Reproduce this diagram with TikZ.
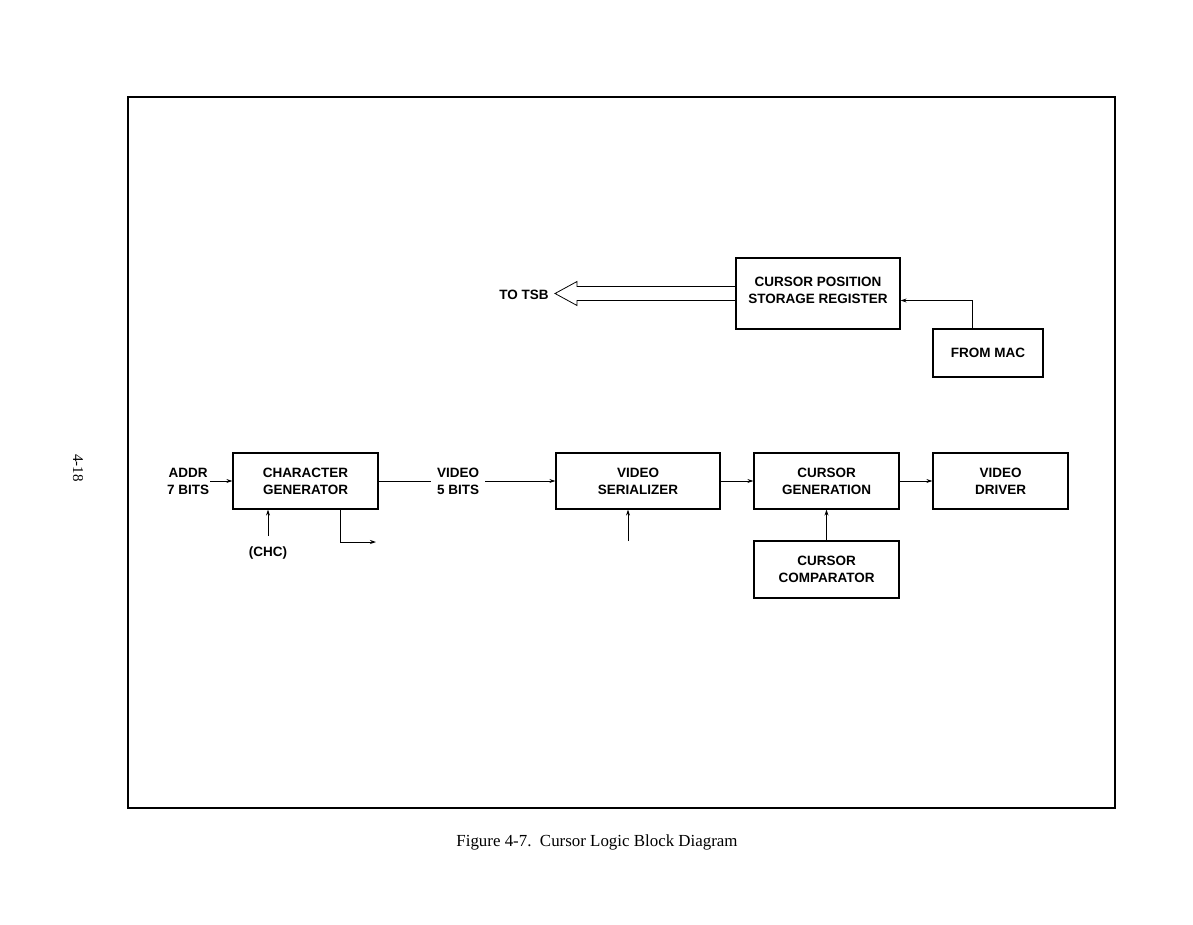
\documentclass[tikz,border=0pt]{standalone}
\usepackage{fontspec}
\setmainfont{Liberation Serif}
\newfontfamily\blockfont{Liberation Sans}
\usetikzlibrary{arrows.meta, positioning, calc}

\begin{document}
\begin{tikzpicture}[
    x=1pt, y=-1pt,
    >={Stealth[length=6pt, width=4pt]},
    box/.style={draw, line width=1.2pt, minimum height=56pt, align=center, font=\blockfont\bfseries\fontsize{13.5}{17}\selectfont},
    lbl/.style={align=center, font=\blockfont\bfseries\fontsize{13.5}{17}\selectfont, inner sep=1pt},
    wire/.style={line width=0.8pt},
]
    \useasboundingbox (0,0) rectangle (1193,925);
    \draw[line width=1.2pt] (128,97) rectangle (1115,808);
    \node[box, minimum width=145pt] (chargen) at (305.5,481) {CHARACTER\\GENERATOR};
    \node[box, minimum width=164pt, right=176.8pt of chargen] (serial) {VIDEO\\SERIALIZER};
    \node[box, minimum width=145pt, right=32.8pt of serial] (cursgen) {CURSOR\\GENERATION};
    \node[box, minimum width=135pt, right=32.8pt of cursgen] (driver) {VIDEO\\DRIVER};
    \node[box, minimum width=145pt, minimum height=57pt, below=30.8pt of cursgen] (compar) {CURSOR\\COMPARATOR};
    \node[box, minimum width=164pt, minimum height=71pt] (posreg) at (818,293.5) {};
    \node[lbl] (posregtext) at ($(posreg.center)+(0,-3)$) {CURSOR POSITION\\STORAGE REGISTER};
    \node[box, minimum width=110pt, minimum height=48pt] (frommac) at (988,353) {FROM MAC};
    \node[lbl, left=22pt of chargen] (addr) {ADDR\\7 BITS};
    \node[lbl] (totsb) at (524,295) {TO TSB};
    \node[lbl] (chc) at (268,553) {(CHC)};
    \coordinate (chcin) at (268,536);
    \coordinate (cgout) at (376,542);
    \coordinate (serin) at (628,541);
    \coordinate (tsbtip) at (555,293.5);
    \draw[wire, ->] (addr) -- (chargen);
    \draw[wire, ->] (chargen) -- node[lbl, fill=white, pos=0.45, inner xsep=6pt] (video) {VIDEO\\5 BITS} (serial);
    \draw[wire, ->] (chcin) -- (chcin |- chargen.south);
    \draw[wire, ->] ($(chargen.south)+(34.5,0)$) |- (cgout);
    \draw[wire, ->] (serin) -- (serin |- serial.south);
    \draw[wire, ->] (serial) -- (cursgen);
    \draw[wire, ->] (cursgen) -- (driver);
    \draw[wire, ->] (compar) -- (cursgen);
    \draw[wire, ->] ($(frommac.north)+(-16,0)$) |- ($(posreg.east)+(0,7)$);
    % hollow bus arrow
    \draw[wire] ($(posreg.west)+(0,-7)$) -- ($(tsbtip)+(22,-7)$) -- ($(tsbtip)+(22,-12)$) -- (tsbtip)
        -- ($(tsbtip)+(22,12)$) -- ($(tsbtip)+(22,7)$) -- ($(posreg.west)+(0,7)$);
    \node[rotate=-90, font=\fontsize{15}{18}\selectfont] (pagenum) at (78,468) {4-18};
    \node[font=\fontsize{16.9}{20}\selectfont] (caption) at (597,842) {Figure 4-7.\ \ Cursor Logic Block Diagram};
\end{tikzpicture}
\end{document}
